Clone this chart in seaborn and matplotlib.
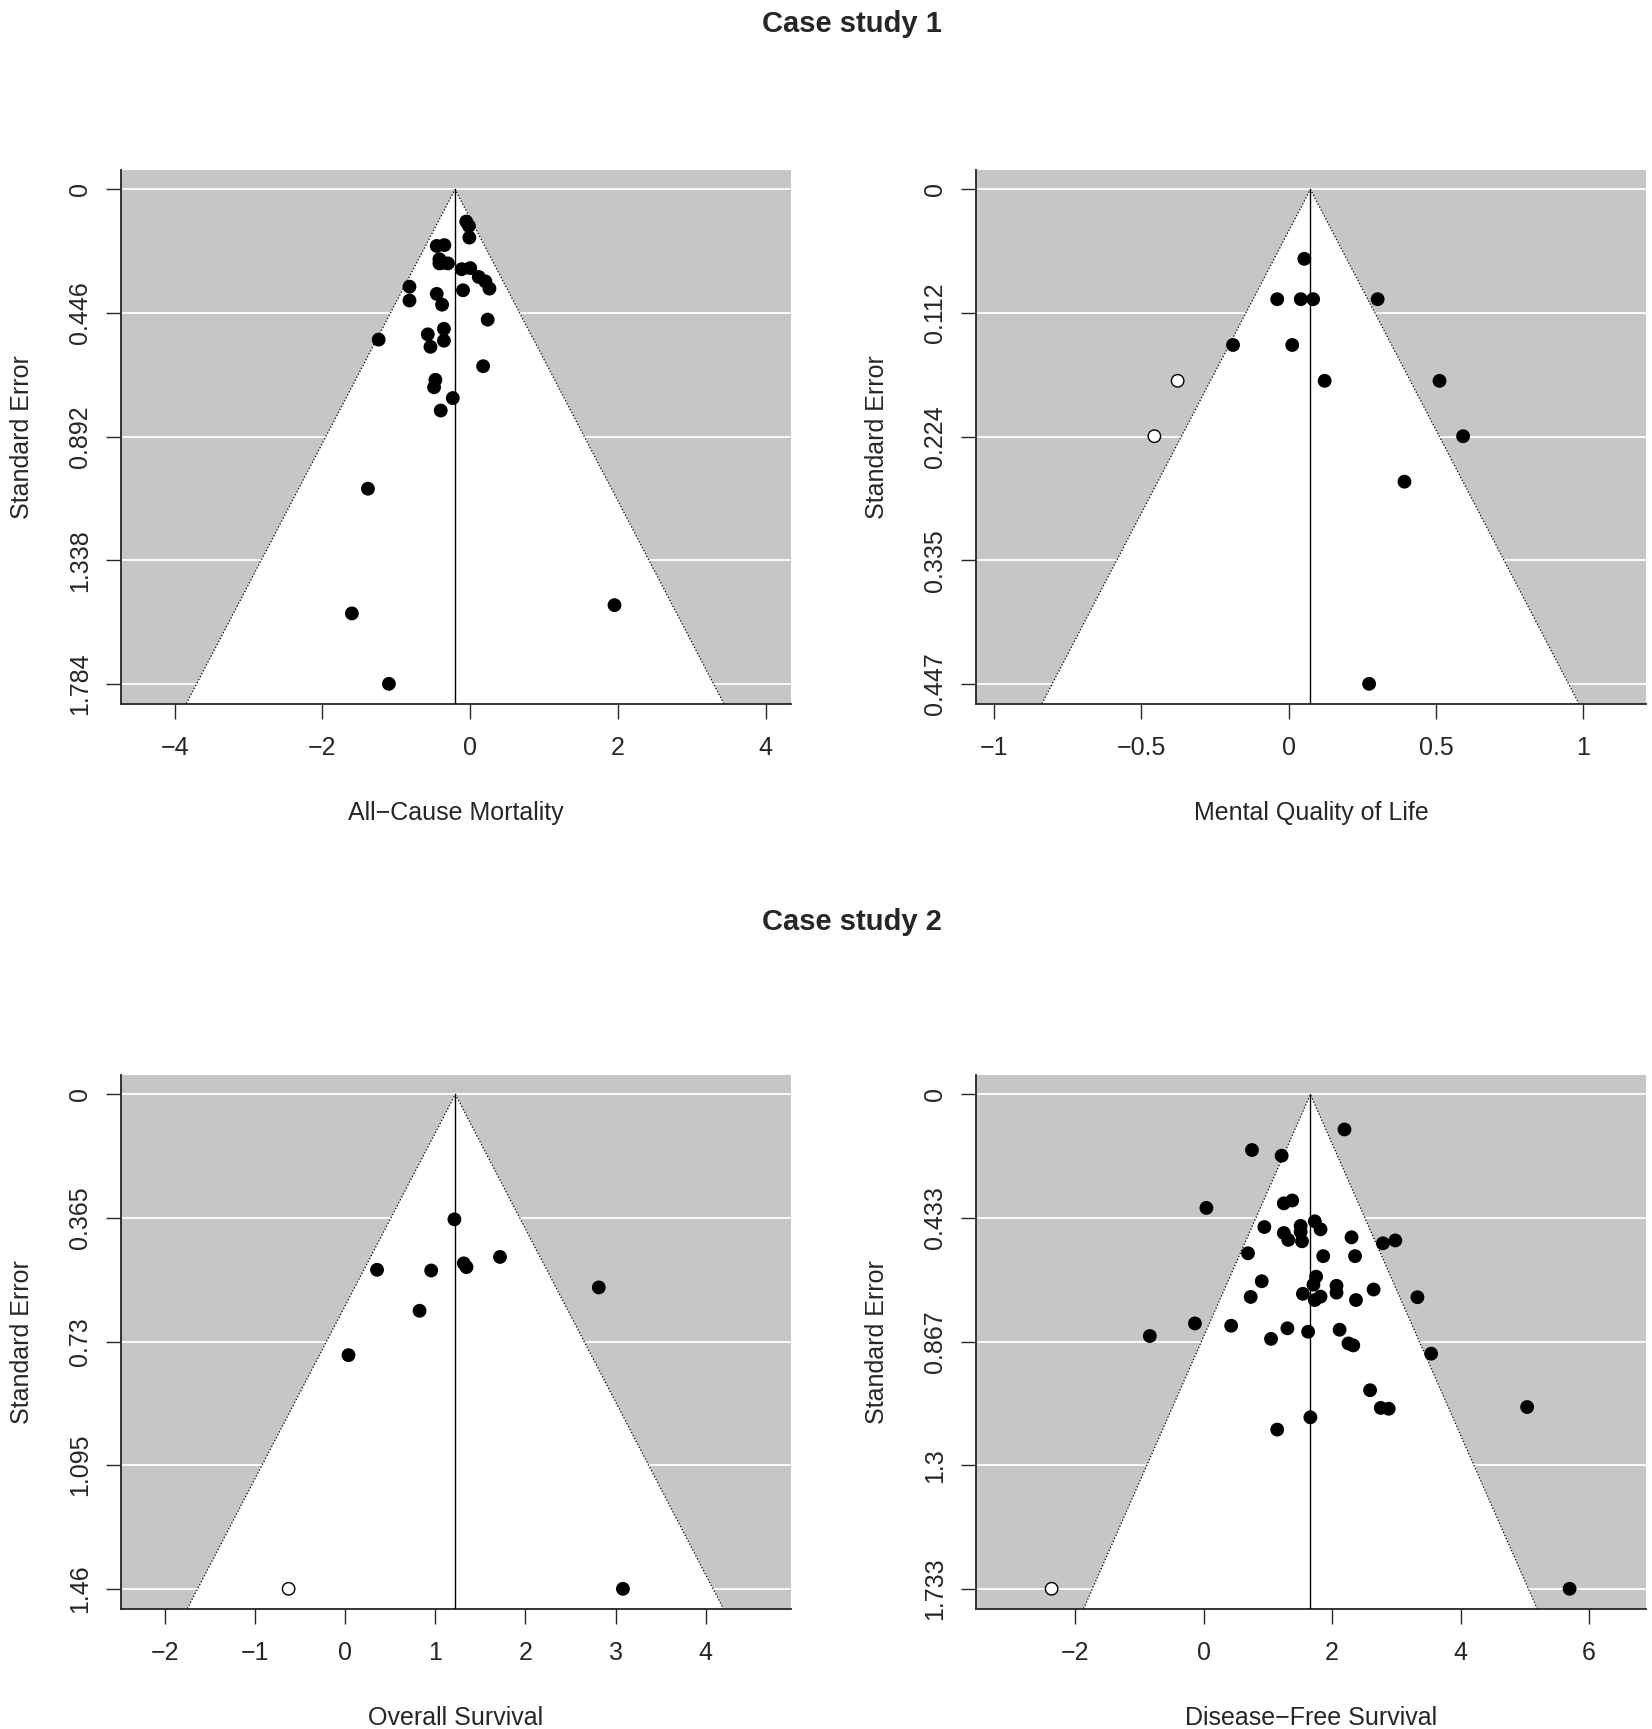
import numpy as np
import pandas as pd
import matplotlib.pyplot as plt
import seaborn as sns

sns.set_style("ticks")
plt.rcParams['font.family'] = ['Liberation Sans', 'DejaVu Sans']
plt.rcParams['font.size'] = 18

# ---- Case study 1: All-Cause Mortality ----
acm_est = [-0.054, -0.018, -0.012, -0.453, -0.350, -0.417, -0.369, -0.302, -0.417,
           -0.115, 0.000, 0.115, 0.205, 0.260, -0.097, -0.822, -0.822, -0.453,
           -0.381, 0.236, -1.239, -0.574, -0.356, -0.356, -0.538, 0.175, -0.471,
           -0.489, -0.236, -0.399, -1.384, -1.601, 1.952, -1.100]
acm_se = [0.116, 0.132, 0.174, 0.204, 0.201, 0.252, 0.265, 0.267, 0.267,
          0.288, 0.284, 0.316, 0.332, 0.358, 0.364, 0.351, 0.401, 0.377,
          0.416, 0.470, 0.542, 0.523, 0.503, 0.546, 0.568, 0.638, 0.687,
          0.714, 0.753, 0.798, 1.080, 1.530, 1.500, 1.784]
acm_fill = [False] * 34
acm_pooled = -0.205
acm_max_se = 1.784
acm_yticklabels = ["0", "0.446", "0.892", "1.338", "1.784"]
acm_xticks = [-4, -2, 0, 2, 4]
acm_xticklabels = ["\u22124", "\u22122", "0", "2", "4"]

# ---- Case study 1: Mental Quality of Life ----
mql_est = [0.053, -0.039, 0.041, 0.083, 0.302, -0.189, 0.012, 0.122, 0.512,
           0.592, 0.393, 0.273, -0.377, -0.456]
mql_se = [0.0628, 0.0993, 0.0993, 0.0993, 0.0993, 0.1407, 0.1407, 0.1731, 0.1731,
          0.2232, 0.2643, 0.4471, 0.1731, 0.2232]
mql_fill = [False] * 12 + [True, True]
mql_pooled = 0.0736
mql_max_se = 0.4471
mql_yticklabels = ["0", "0.112", "0.224", "0.335", "0.447"]
mql_xticks = [-1, -0.5, 0, 0.5, 1]
mql_xticklabels = ["\u22121", "\u22120.5", "0", "0.5", "1"]

# ---- Case study 2: Overall Survival ----
os_est = [1.211, 0.352, 0.953, 1.315, 1.345, 1.717, 2.814, 0.824, 0.035, 3.082, -0.630]
os_se = [0.369, 0.518, 0.520, 0.499, 0.510, 0.480, 0.570, 0.639, 0.770, 1.460, 1.460]
os_fill = [False] * 10 + [True]
os_pooled = 1.221
os_max_se = 1.46
os_yticklabels = ["0", "0.365", "0.73", "1.095", "1.46"]
os_xticks = [-2, -1, 0, 1, 2, 3, 4]
os_xticklabels = ["\u22122", "\u22121", "0", "1", "2", "3", "4"]

# ---- Case study 2: Disease-Free Survival ----
dfs_est = [2.192, 0.751, 1.213, 0.041, 1.247, 1.378, 0.944, 1.247, 1.316, 1.509,
           1.509, 1.530, 1.730, 1.819, 2.302, 2.791, 2.984, 0.689, 1.861, 2.357,
           0.903, 1.750, 1.709, 0.731, 1.544, 1.730, 1.819, 2.068, 2.068, 2.371,
           2.646, 3.329, -0.138, 0.427, -0.841, 1.303, 1.048, 1.626, 2.116, 2.254,
           2.329, 3.542, 2.591, 2.757, 2.881, 5.038, 1.661, 1.144, 5.700, -2.371]
dfs_se = [0.123, 0.195, 0.215, 0.398, 0.382, 0.372, 0.465, 0.486, 0.510, 0.461,
          0.482, 0.515, 0.445, 0.473, 0.501, 0.522, 0.512, 0.557, 0.567, 0.567,
          0.655, 0.639, 0.667, 0.710, 0.699, 0.721, 0.709, 0.671, 0.695, 0.721,
          0.684, 0.711, 0.803, 0.811, 0.847, 0.820, 0.857, 0.832, 0.825, 0.873,
          0.880, 0.909, 1.037, 1.099, 1.102, 1.096, 1.132, 1.175, 1.733, 1.733]
dfs_fill = [False] * 49 + [True]
dfs_pooled = 1.661
dfs_max_se = 1.7332
dfs_yticklabels = ["0", "0.433", "0.867", "1.3", "1.733"]
dfs_xticks = [-2, 0, 2, 4, 6]
dfs_xticklabels = ["\u22122", "0", "2", "4", "6"]


def funnel(ax, est, se, fill, pooled, max_se, xlim, xticks, xticklabels,
           yticklabels, xlabel):
    df = pd.DataFrame({'est': est, 'se': se,
                       'kind': np.where(fill, 'imputed', 'observed')})
    ybot = max_se * 1.04
    ax.set_facecolor('#c6c6c6')
    yt = np.linspace(0, max_se, 5)
    for y in yt:
        ax.axhline(y, color='white', lw=1.3, zorder=1)
    half = 1.96 * ybot
    ax.fill([pooled - half, pooled, pooled + half], [ybot, 0, ybot],
            color='white', zorder=2, lw=0)
    ax.plot([pooled - half, pooled, pooled + half], [ybot, 0, ybot],
            ls=':', color='black', lw=0.9, zorder=3)
    ax.plot([pooled, pooled], [0, ybot], color='black', lw=1.0, zorder=3)
    sns.scatterplot(data=df, x='est', y='se', hue='kind',
                    palette={'observed': 'black', 'imputed': 'white'},
                    edgecolor='black', linewidth=1.0, s=80, legend=False,
                    ax=ax, zorder=5)
    ax.set_xlim(*xlim)
    ax.set_ylim(ybot, -max_se * 0.04)
    ax.set_xticks(xticks)
    ax.set_xticklabels(xticklabels)
    ax.set_yticks(yt)
    ax.set_yticklabels(yticklabels, rotation=90, va='center')
    ax.tick_params(length=11, width=1.0, direction='out', pad=10, labelsize=18)
    ax.tick_params(axis='x', pad=12)
    ax.set_xlabel(xlabel, fontsize=18, labelpad=30)
    ax.set_ylabel('Standard Error', fontsize=18, labelpad=24)
    for side in ['top', 'right']:
        ax.spines[side].set_visible(False)
    for side in ['left', 'bottom']:
        ax.spines[side].set_linewidth(1.3)


fig = plt.figure(figsize=(16.52, 17.29), dpi=100)
W, H = 1652, 1729
aw, ah = 670 / W, 534 / H
ax1 = fig.add_axes([121 / W, 1 - 703.6 / H, aw, ah])
ax2 = fig.add_axes([976 / W, 1 - 703.6 / H, aw, ah])
ax3 = fig.add_axes([121 / W, 1 - 1608.6 / H, aw, ah])
ax4 = fig.add_axes([976 / W, 1 - 1608.6 / H, aw, ah])

funnel(ax1, acm_est, acm_se, acm_fill, acm_pooled, acm_max_se, (-4.725, 4.34),
       acm_xticks, acm_xticklabels, acm_yticklabels, 'All\u2212Cause Mortality')
funnel(ax2, mql_est, mql_se, mql_fill, mql_pooled, mql_max_se, (-1.0616, 1.213),
       mql_xticks, mql_xticklabels, mql_yticklabels, 'Mental Quality of Life')
funnel(ax3, os_est, os_se, os_fill, os_pooled, os_max_se, (-2.491, 4.948),
       os_xticks, os_xticklabels, os_yticklabels, 'Overall Survival')
funnel(ax4, dfs_est, dfs_se, dfs_fill, dfs_pooled, dfs_max_se, (-3.549, 6.89),
       dfs_xticks, dfs_xticklabels, dfs_yticklabels, 'Disease\u2212Free Survival')

fig.text(852 / W, 1 - 24 / H, 'Case study 1', ha='center', va='center',
         fontsize=21, fontweight='bold')
fig.text(852 / W, 1 - 922 / H, 'Case study 2', ha='center', va='center',
         fontsize=21, fontweight='bold')

fig.savefig('out.png', dpi=100)
